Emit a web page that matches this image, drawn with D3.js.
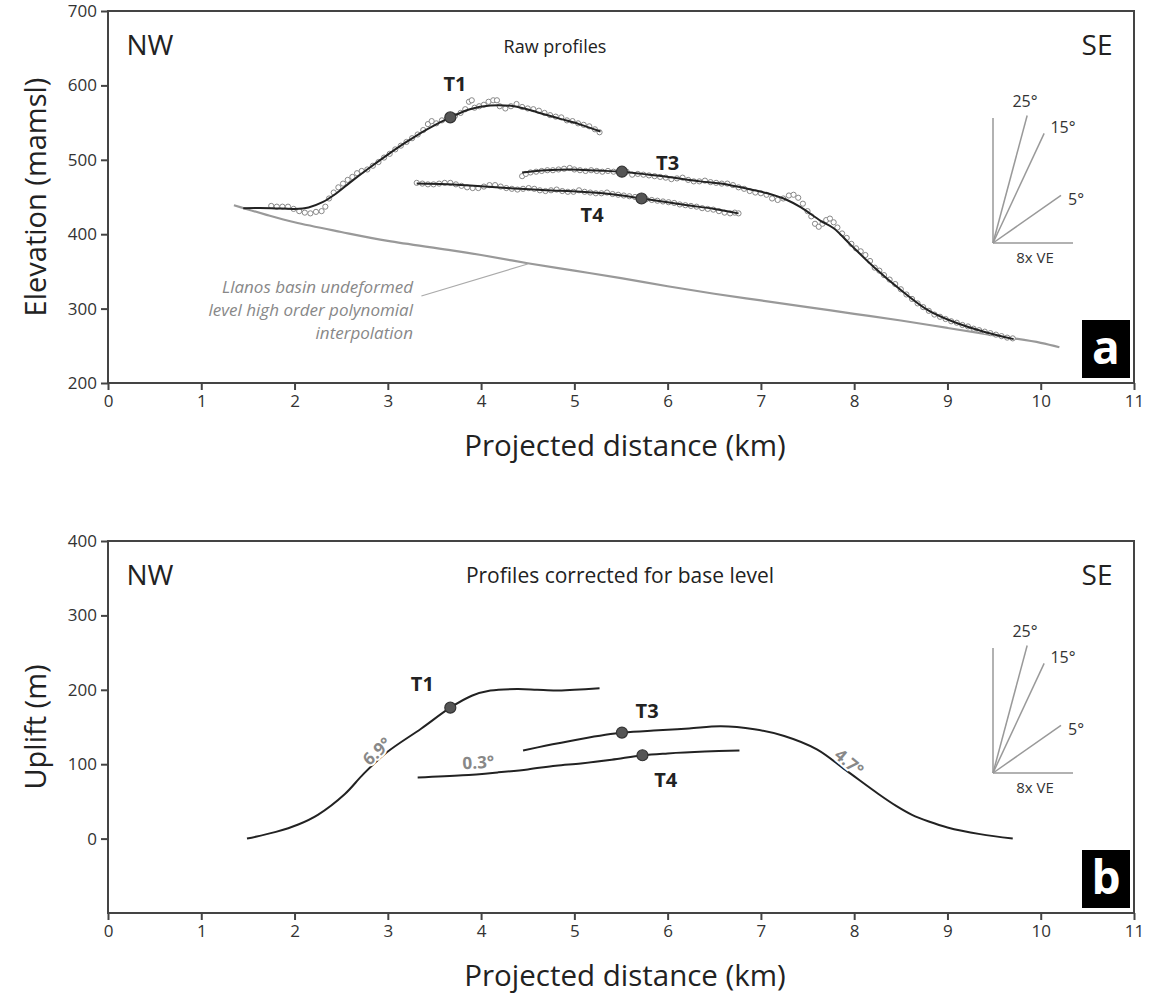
<!DOCTYPE html>
<html><head><meta charset="utf-8">
<script src="https://cdn.jsdelivr.net/npm/d3@7"></script>
<style>
body{margin:0;background:#fff}
text{font-family:"Open Sans",sans-serif;fill:#222}
</style>
</head><body>
<svg id="c" width="1149" height="1008"></svg>
<script>
// ---------- DATA ----------
const xTicks = [0,1,2,3,4,5,6,7,8,9,10,11];
const elevTicks = [200,300,400,500,600,700];
const upliftTicks = [0,100,200,300,400];
const inclinationAngles = [25,15,5];

// undeformed base level (polynomial) [km, m asl]
const baseLevel = [[1.35,439],[1.7,426],[2,416],[2.5,403],[3,391],[3.65,379],[4,372],[4.5,361],[5,351],[5.5,341],[6,330],[6.5,320],[7,311],[7.5,302],[8,293],[8.5,284],[9,274],[9.5,264],[10,254],[10.2,248]];

// raw profiles: fitted lines [km, m asl]
const t1Fit = [[1.45,435],[1.75,435],[2.0,434],[2.15,436],[2.3,443],[2.45,455],[2.6,470],[2.8,489],[3.0,507],[3.2,524],[3.42,541],[3.67,557],[3.88,568],[4.1,573],[4.35,572],[4.6,564],[4.85,555],[5.05,548],[5.28,538]];
const t3Fit = [[4.44,483],[4.7,486],[4.96,487],[5.25,485.5],[5.51,484],[5.8,480],[6.03,476.5],[6.35,471],[6.57,468],[6.93,459],[7.07,455],[7.28,446],[7.43,436],[7.64,418],[7.78,408],[7.96,386],[8.21,356],[8.5,325],[8.79,298],[9.07,282],[9.39,269],[9.71,259]];
const t4Fit = [[3.31,468],[3.63,467],[4.0,464.5],[4.35,461.5],[4.7,459],[5.07,457],[5.49,452.5],[5.72,448],[6.0,443],[6.21,439],[6.5,434],[6.76,428]];

// raw profiles: measured points [km, m asl]
const t1Raw = [[1.75,438],[1.81,437],[1.87,437],[1.93,437],[1.99,434],[2.05,431],[2.11,429],[2.17,428],[2.23,430],[2.29,431],[2.33,437],[2.37,448],[2.42,456],[2.47,463],[2.52,468],[2.57,473],[2.62,477],[2.67,482],[2.72,485],[2.78,487],[2.84,492],[2.9,497],[2.96,503],[3.02,508],[3.08,514],[3.14,519],[3.2,524],[3.26,529],[3.32,534],[3.38,540],[3.43,548],[3.47,552],[3.52,549],[3.58,553],[3.64,556],[3.72,559],[3.78,563],[3.83,568],[3.87,578],[3.9,580],[3.93,570],[3.98,572],[4.03,574],[4.08,578],[4.13,580],[4.17,580],[4.2,572],[4.26,569],[4.32,572],[4.38,575],[4.44,571],[4.5,569],[4.56,568],[4.62,566],[4.68,563],[4.74,560],[4.8,558],[4.86,557],[4.92,553],[4.98,552],[5.04,549],[5.1,547],[5.16,545],[5.22,541],[5.27,537]];
const t3Raw = [[4.44,478],[4.48,481],[4.53,483],[4.59,484],[4.65,485],[4.71,486],[4.77,486],[4.83,487],[4.89,488],[4.95,489],[5.0,487],[5.06,486],[5.12,485],[5.18,486],[5.24,485],[5.3,484],[5.36,485],[5.42,484],[5.48,484],[5.56,484],[5.62,480],[5.68,481],[5.74,480],[5.8,479],[5.86,478],[5.92,477],[5.98,476],[6.04,474],[6.1,475],[6.16,476],[6.22,473],[6.28,471],[6.34,471],[6.4,472],[6.46,470],[6.52,469],[6.58,468],[6.64,468],[6.7,466],[6.76,463],[6.82,461],[6.88,458],[6.94,456],[7.0,455],[7.06,453],[7.12,448],[7.18,446],[7.24,448],[7.3,452],[7.35,453],[7.4,449],[7.45,441],[7.5,431],[7.54,424],[7.58,414],[7.62,410],[7.66,414],[7.7,419],[7.74,421],[7.78,416],[7.82,409],[7.87,401],[7.92,395],[7.97,387],[8.02,381],[8.07,377],[8.12,372],[8.17,364],[8.22,355],[8.27,351],[8.32,345],[8.38,339],[8.44,333],[8.5,326],[8.56,319],[8.62,313],[8.68,307],[8.74,302],[8.8,297],[8.86,292],[8.92,289],[8.98,286],[9.04,283],[9.1,281],[9.16,278],[9.22,276],[9.28,273],[9.34,271],[9.4,269],[9.46,267],[9.52,265],[9.58,263],[9.64,261],[9.7,260]];
const t4Raw = [[3.31,469],[3.37,468],[3.43,467],[3.49,467],[3.55,468],[3.61,469],[3.67,469],[3.73,467],[3.79,465],[3.85,463],[3.91,462],[3.97,462],[4.03,464],[4.09,466],[4.15,466],[4.21,464],[4.27,462],[4.33,461],[4.39,460],[4.45,461],[4.51,462],[4.57,461],[4.63,459],[4.69,458],[4.75,459],[4.81,460],[4.87,458],[4.93,457],[4.99,457],[5.05,459],[5.11,457],[5.17,456],[5.23,455],[5.29,455],[5.35,456],[5.41,454],[5.47,453],[5.53,452],[5.59,451],[5.65,450],[5.71,449],[5.77,447],[5.83,446],[5.89,445],[5.95,444],[6.01,443],[6.07,442],[6.13,440],[6.19,439],[6.25,438],[6.31,437],[6.37,435],[6.43,434],[6.49,433],[6.55,431],[6.61,429],[6.67,428],[6.72,429],[6.76,428]];

// corrected profiles (uplift) [km, m]
const t1Uplift = [[1.49,0],[1.8,9],[2.04,19],[2.25,32],[2.54,60],[2.74,87],[2.99,116],[3.36,148],[3.67,176],[3.9,192],[4.1,199],[4.39,201],[4.6,200],[4.8,199],[5.0,200],[5.27,202]];
const t3Uplift = [[4.45,118.5],[4.7,125],[5.07,134],[5.52,142.5],[5.9,145.5],[6.23,148],[6.57,151],[6.93,147],[7.25,138],[7.6,120],[7.91,92],[8.26,60],[8.45,44],[8.62,32],[8.8,23],[9.0,15],[9.35,6],[9.7,0]];
const t4Uplift = [[3.32,82],[3.8,85],[4.18,89],[4.5,93],[4.8,98],[5.07,101],[5.4,106],[5.73,112],[6.0,114.5],[6.4,117],[6.77,118.5]];

// terrace reference points and labels
const terraceNames = ["T1","T3","T4"];
const rawMarkers = [[3.67,557],[5.51,484],[5.72,448]];
const rawLabelPos = [[3.72,603],[6.0,497],[5.19,426]];
const upliftMarkers = [[3.67,176],[5.51,142.5],[5.73,112]];
const upliftLabelPos = [[3.37,209],[5.78,172],[5.98,79.5]];
const slopeLabels = [{t:"6.9°",x:2.88,y:118,r:-42},{t:"0.3°",x:3.97,y:103,r:-3},{t:"4.7°",x:7.95,y:103,r:40}];

// ---------- DRAWING ----------
const svg = d3.select("#c");
const L = 108, R = 1134;
const x = d3.scaleLinear().domain([0,11]).range([L,R]);
const yTop = d3.scaleLinear().domain([200,700]).range([383,11]);
const yBot = d3.scaleLinear().domain([-100,400]).range([913,541]);
const frameCol = "#444";

function panel(y, ticks, yTitle, title, letter){
  const g = svg.append("g");
  const [y0,y1] = y.range();
  g.append("rect").attr("x",L).attr("y",y1).attr("width",R-L).attr("height",y0-y1)
    .attr("fill","none").attr("stroke",frameCol).attr("stroke-width",2);
  const xa = g.append("g").attr("transform",`translate(0,${y0})`)
    .call(d3.axisBottom(x).tickValues(xTicks).tickSize(7).tickSizeOuter(0).tickFormat(d3.format("d")));
  const ya = g.append("g").attr("transform",`translate(${L},0)`)
    .call(d3.axisLeft(y).tickValues(ticks).tickSize(7).tickSizeOuter(0).tickFormat(d3.format("d")));
  [xa,ya].forEach(a=>{
    a.select(".domain").remove();
    a.selectAll("line").attr("stroke",frameCol).attr("stroke-width",2);
    a.selectAll("text").style("font-size","17px").style("fill","#333").style("font-family","'Open Sans',sans-serif");
  });
  xa.selectAll("text").attr("dy","0.85em");
  ya.selectAll("text").attr("dx","-1px");
  g.append("text").attr("transform",`translate(34,${(y0+y1)/2}) rotate(-90)`)
    .attr("text-anchor","middle").attr("dominant-baseline","central")
    .style("font-size","29px").style("fill","#222").text(yTitle);
  g.append("text").attr("x",(L+R)/2+4).attr("y",y0+73).attr("text-anchor","middle")
    .style("font-size","29.5px").style("fill","#222").text("Projected distance (km)");
  g.append("text").attr("x",150).attr("y",y1+44).attr("text-anchor","middle")
    .style("font-size","28px").text("NW");
  g.append("text").attr("x",1097).attr("y",y1+44).attr("text-anchor","middle")
    .style("font-size","28px").text("SE");
  g.append("text").attr("x",title.cx).attr("y",y1+42).attr("text-anchor","middle")
    .style("font-size",title.fs).text(title.t);
  g.append("rect").attr("x",1082).attr("y",y0-63).attr("width",48).attr("height",58).attr("fill","#000");
  g.append("text").attr("x",1106).attr("y",y0-19).attr("text-anchor","middle")
    .style("font-size","46px").style("font-weight","bold").style("fill","#fff").text(letter);
  // inset: angle scale for 8x vertical exaggeration
  const ox = 993, oy = y1 + 232;
  const ig = g.append("g").attr("stroke","#999").attr("stroke-width",1.5);
  ig.append("line").attr("x1",ox).attr("y1",oy).attr("x2",ox).attr("y2",oy-125);
  ig.append("line").attr("x1",ox).attr("y1",oy).attr("x2",ox+80).attr("y2",oy);
  const lens = {25:132,15:121,5:83};
  const lab = {25:[32,-142],15:[70,-116],5:[83,-44]};
  inclinationAngles.forEach(a=>{
    const ang = Math.atan(8*Math.tan(a*Math.PI/180));
    ig.append("line").attr("x1",ox).attr("y1",oy)
      .attr("x2",ox+lens[a]*Math.cos(ang)).attr("y2",oy-lens[a]*Math.sin(ang));
    g.append("text").attr("x",ox+lab[a][0]).attr("y",oy+lab[a][1]).attr("text-anchor","middle")
      .attr("dominant-baseline","central").style("font-size","16px").style("fill","#333").text(a+"°");
  });
  g.append("text").attr("x",ox+42).attr("y",oy+14).attr("text-anchor","middle")
    .attr("dominant-baseline","central").style("font-size","15px").style("fill","#333").text("8x VE");
  return g;
}

// ---- panel a ----
panel(yTop, elevTicks, "Elevation (mamsl)", {t:"Raw profiles",cx:555,fs:"18px"}, "a");
const lineTop = d3.line().x(d=>x(d[0])).y(d=>yTop(d[1])).curve(d3.curveCatmullRom.alpha(0.5));
svg.append("path").attr("d",lineTop(baseLevel)).attr("fill","none").attr("stroke","#999").attr("stroke-width",2.2);
svg.append("line").attr("x1",x(3.36)).attr("y1",yTop(317)).attr("x2",x(4.5)).attr("y2",yTop(360))
  .attr("stroke","#aaa").attr("stroke-width",1.2);
const ann = svg.append("text").attr("text-anchor","end").style("font-size","17px")
  .style("font-style","italic").style("fill","#888");
["Llanos basin undeformed","level high order polynomial","interpolation"].forEach((s,i)=>{
  ann.append("tspan").attr("x",x(3.27)).attr("y",yTop(321)+i*23).text(s);
});
[t1Raw,t3Raw,t4Raw].forEach(arr=>{
  svg.append("g").selectAll("circle").data(arr).join("circle")
    .attr("cx",d=>x(d[0])).attr("cy",d=>yTop(d[1])).attr("r",2.6)
    .attr("fill","#fff").attr("stroke","#888").attr("stroke-width",1);
});
[t1Fit,t3Fit,t4Fit].forEach(arr=>{
  svg.append("path").attr("d",lineTop(arr)).attr("fill","none").attr("stroke","#222").attr("stroke-width",2);
});
svg.append("g").selectAll("circle").data(rawMarkers).join("circle")
  .attr("cx",d=>x(d[0])).attr("cy",d=>yTop(d[1])).attr("r",5.5)
  .attr("fill","#555").attr("stroke","#333").attr("stroke-width",1.2);
svg.append("g").selectAll("text").data(rawLabelPos).join("text")
  .attr("x",d=>x(d[0])).attr("y",d=>yTop(d[1])).attr("text-anchor","middle").attr("dominant-baseline","central")
  .style("font-size","20px").style("font-weight","bold").text((d,i)=>terraceNames[i]);

// ---- panel b ----
panel(yBot, upliftTicks, "Uplift (m)", {t:"Profiles corrected for base level",cx:620,fs:"21px"}, "b");
const lineBot = d3.line().x(d=>x(d[0])).y(d=>yBot(d[1])).curve(d3.curveCatmullRom.alpha(0.5));
[t1Uplift,t3Uplift,t4Uplift].forEach(arr=>{
  svg.append("path").attr("d",lineBot(arr)).attr("fill","none").attr("stroke","#222").attr("stroke-width",2);
});
svg.append("g").selectAll("text").data(slopeLabels).join("text")
  .attr("transform",d=>`translate(${x(d.x)},${yBot(d.y)}) rotate(${d.r})`)
  .attr("text-anchor","middle").attr("dominant-baseline","central")
  .style("font-size","17px").style("font-weight","bold").style("fill","#888")
  .style("stroke","#fff").style("stroke-width",4).style("paint-order","stroke")
  .text(d=>d.t);
svg.append("g").selectAll("circle").data(upliftMarkers).join("circle")
  .attr("cx",d=>x(d[0])).attr("cy",d=>yBot(d[1])).attr("r",5.5)
  .attr("fill","#555").attr("stroke","#333").attr("stroke-width",1.2);
svg.append("g").selectAll("text").data(upliftLabelPos).join("text")
  .attr("x",d=>x(d[0])).attr("y",d=>yBot(d[1])).attr("text-anchor","middle").attr("dominant-baseline","central")
  .style("font-size","20px").style("font-weight","bold").text((d,i)=>terraceNames[i]);
</script>
</body></html>
